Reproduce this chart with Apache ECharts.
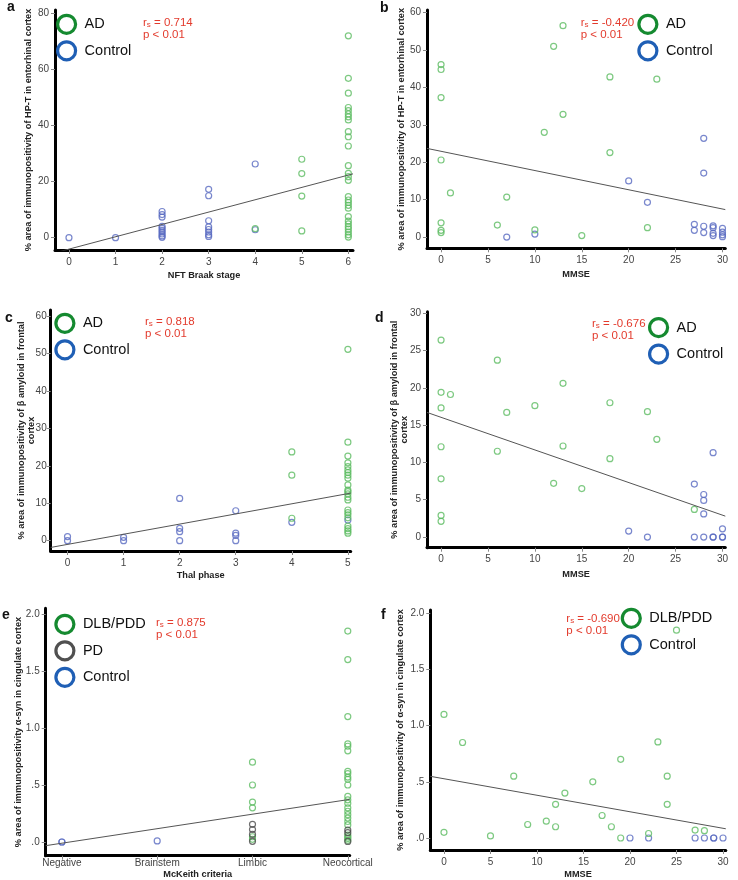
<!DOCTYPE html>
<html><head><meta charset="utf-8">
<script src="https://cdn.jsdelivr.net/npm/echarts@6/dist/echarts.min.js"></script>
<style>html,body{margin:0;padding:0;background:#fff}#c{width:738px;height:880px}</style>
</head><body><div id="c"></div>
<script>
// ---------- data ----------
const aControl = [[0,0],[1,0],[2,9.3],[2,8.2],[2,7.3],[2,4.0],[2,3.3],[2,2.6],[2,2.0],[2,1.3],[2,0.6],[2,0.1],[3,17.2],[3,14.9],[3,6.0],[3,3.8],[3,2.9],[3,2.0],[3,1.0],[3,0.4],[4,26.2],[4,2.8]];
const aAD = [[4,3.2],[5,27.9],[5,22.8],[5,14.8],[5,2.4],[6,71.8],[6,56.7],[6,51.4],[6,46.3],[6,45.2],[6,44.0],[6,43.0],[6,41.9],[6,37.7],[6,35.9],[6,32.6],[6,25.6],[6,22.9],[6,21.7],[6,20.4],[6,14.6],[6,13.4],[6,12.5],[6,11.5],[6,10.5],[6,7.5],[6,5.9],[6,4.9],[6,3.9],[6,3.0],[6,2.0],[6,1.0],[6,0.2]];
const aFit = [[-0.3,-5.4],[6.1,22.7]];

const bAD = [[0,46.1],[0,44.8],[0,37.3],[0,20.6],[0,3.8],[0,1.8],[0,1.2],[1,11.8],[6,3.2],[7,10.7],[10,1.9],[11,28.0],[12,51.0],[13,56.5],[13,32.8],[15,0.4],[18,42.8],[18,22.6],[22,2.5],[23,42.2]];
const bControl = [[7,0],[10,0.8],[20,15.0],[22,9.3],[28,26.4],[28,17.1],[27,3.4],[27,1.8],[28,2.9],[28,1.2],[29,3.0],[29,2.5],[29,1.0],[29,0.4],[30,2.3],[30,1.3],[30,0.6],[30,0.1]];
const bFit = [[-1.5,23.7],[30.3,7.35]];

const cControl = [[0,1.1],[0,0],[1,0.9],[1,0],[2,11.3],[2,3.3],[2,2.4],[2,0],[3,8.0],[3,2.0],[3,1.4],[3,0],[4,4.9],[5,5.5]];
const cAD = [[4,23.7],[4,17.5],[4,6.0],[5,51.1],[5,26.3],[5,22.6],[5,20.8],[5,19.8],[5,18.9],[5,18.2],[5,17.5],[5,16.7],[5,14.9],[5,13.5],[5,13.1],[5,12.5],[5,11.6],[5,10.9],[5,8.2],[5,7.5],[5,6.9],[5,6.1],[5,3.9],[5,3.2],[5,2.6],[5,2.0]];
const cFit = [[-0.3,-1.8],[5.05,12.7]];

const dAD = [[0,26.4],[0,19.4],[1,19.1],[0,17.3],[0,12.1],[0,7.8],[0,2.9],[0,2.1],[6,23.7],[6,11.5],[7,16.7],[10,17.6],[12,7.2],[13,20.6],[13,12.2],[15,6.5],[18,18.0],[18,10.5],[22,16.8],[23,13.1],[27,3.7]];
const dControl = [[20,0.8],[22,0],[27,7.1],[27,0],[28,5.7],[28,4.9],[28,3.1],[28,0],[29,11.3],[29,0],[29,0],[30,1.1],[30,0],[30,0]];
const dFit = [[-1.5,16.7],[30.3,2.8]];

const eCats = ['Negative','Brainstem','Limbic','Neocortical'];
const eDLB = [[2,0.70],[2,0.50],[2,0.35],[2,0.30],[2,0.046],[2,0.024],[3,1.85],[3,1.60],[3,1.10],[3,0.86],[3,0.84],[3,0.80],[3,0.62],[3,0.60],[3,0.57],[3,0.55],[3,0.50],[3,0.40],[3,0.37],[3,0.34],[3,0.30],[3,0.27],[3,0.24],[3,0.21],[3,0.18],[3,0.15],[3,0.06],[3,0.045],[3,0.03],[3,0.015]];
const ePD = [[2,0.155],[2,0.11],[2,0.067],[2,0.006],[3,0.105],[3,0.082],[3,0.005]];
const eControl = [[0,0],[0,0],[1,0.01]];
const eFit = [[-0.17,-0.032],[3.02,0.374]];

const fDLB = [[0,1.10],[0,0.05],[2,0.85],[5,0.018],[7.5,0.55],[9,0.12],[11,0.15],[12,0.30],[12,0.10],[13,0.40],[16,0.50],[17,0.20],[18,0.10],[19,0.70],[19,0.0],[22,0.04],[23,0.855],[24,0.55],[24,0.30],[25,1.85],[27,0.07],[28,0.065]];
const fControl = [[20,0],[22,0],[27,0],[28,0],[29,0],[29,0],[30,0]];
const fFit = [[-1.47,0.549],[30.3,0.082]];

const ticksBraak = [0,1,2,3,4,5,6];
const ticksThal = [0,1,2,3,4,5];
const ticksMMSE = [0,5,10,15,20,25,30];
const ticksMcK = [0,1,2,3];
const yTicksA = [0,20,40,60,80];
const yTicksB = [0,10,20,30,40,50,60];
const yTicksD = [0,5,10,15,20,25,30];
const yTicksE = [0,0.5,1,1.5,2];

const stats = [
  {r:'0.714', p:'p < 0.01'}, {r:'-0.420', p:'p < 0.01'},
  {r:'0.818', p:'p < 0.01'}, {r:'-0.676', p:'p < 0.01'},
  {r:'0.875', p:'p < 0.01'}, {r:'-0.690', p:'p < 0.01'}
];

// ---------- styles ----------
const FONT = 'Liberation Sans, Arial, Helvetica, sans-serif';
const GREEN = '#5cbb62', BLUE = '#5869c0', GRAY = '#4a4a4a';
const LGREEN = '#158a30', LBLUE = '#1f5fb5', LGRAY = '#505050';
const RED = '#e33b2d';

const grids = [
  {left:55, top:10, width:298, height:240},
  {left:427, top:10, width:298.3, height:238.3},
  {left:50.7, top:310, width:300, height:241},
  {left:427, top:311.7, width:298.3, height:236},
  {left:45.7, top:608.3, width:304, height:247.4},
  {left:430.3, top:610, width:295.5, height:240}
];

const fmtE = v => v === 0 ? '.0' : (v < 1 ? '.' + String(v).split('.')[1] : v.toFixed(1));

function xAxis(i, min, max, ticks, name, gap, fmt, lblMargin) {
  return {
    gridIndex:i, type:'value', min, max, name, nameLocation:'middle', nameGap:gap, nameMoveOverlap:false,
    nameTextStyle:{fontFamily:FONT, fontWeight:'bold', fontSize:9.2, color:'#222'},
    axisLine:{show:true, onZero:false, lineStyle:{color:'#000', width:3}},
    axisTick:{show:true, customValues:ticks, length:4, lineStyle:{color:'#888', width:1}},
    axisLabel:{customValues:ticks, fontFamily:FONT, fontSize:10, color:'#444', margin:lblMargin || 7, formatter: fmt || (v => String(v))},
    splitLine:{show:false}
  };
}
function yAxis(i, min, max, ticks, name, gap, fmt, lh, lblMargin) {
  return {
    gridIndex:i, type:'value', min, max, name, nameLocation:'middle', nameGap:gap, nameRotate:90, nameMoveOverlap:false,
    nameTextStyle:{fontFamily:FONT, fontWeight:'bold', fontSize:9.2, color:'#222', lineHeight: lh || 11},
    axisLine:{show:true, onZero:false, lineStyle:{color:'#000', width:3}},
    axisTick:{show:true, customValues:ticks, length:4, lineStyle:{color:'#888', width:1}},
    axisLabel:{customValues:ticks, fontFamily:FONT, fontSize:10, color:'#444', margin:lblMargin || 6, formatter: fmt || (v => String(v))},
    splitLine:{show:false}
  };
}

function scatter(i, name, data, color) {
  return {type:'scatter', name, xAxisIndex:i, yAxisIndex:i, data, symbol:'circle', symbolSize:6,
    itemStyle:{color:'rgba(0,0,0,0)', borderColor:color, borderWidth:1.2}, silent:true};
}
function fit(i, data) {
  return {type:'line', name:'fit', xAxisIndex:i, yAxisIndex:i, data, symbol:'none', silent:true, clip:true,
    lineStyle:{color:'#555', width:1}};
}
function legend(left, top, items) {
  const col = {AD:LGREEN, 'DLB/PDD':LGREEN, PD:LGRAY, Control:LBLUE};
  return {left, top, orient:'vertical', padding:0, itemWidth:26, itemHeight:18, itemGap:5.3, icon:'circle',
    selectedMode:false,
    textStyle:{fontFamily:FONT, fontSize:14.5, color:'#111'},
    data: items.map(n => ({name:n, itemStyle:{color:'rgba(0,0,0,0)', borderColor:col[n], borderWidth:3.2, opacity:1}}))};
}
function statTitle(i, left, top) {
  return {left, top, padding:0,
    text:'{a|r}{s|s}{a| = ' + stats[i].r + '}\n{a|' + stats[i].p + '}',
    textStyle:{fontWeight:'normal', fontFamily:FONT, fontSize:11.5, color:RED, rich:{
      a:{fontFamily:FONT, fontWeight:'normal', fontSize:11.5, color:RED, lineHeight:12},
      s:{fontFamily:FONT, fontWeight:'normal', fontSize:8, color:RED, lineHeight:12, verticalAlign:'bottom', padding:[5,0,0,0]}
    }}};
}
function letter(t, left, top) {
  return {left, top, padding:0, text:t, textStyle:{fontFamily:FONT, fontWeight:'bold', fontSize:14, color:'#111', lineHeight:14}};
}

const option = {
  animation:false,
  backgroundColor:'#fff',
  grid: grids,
  title: [
    letter('a', 7, 0), letter('b', 380, 1), letter('c', 5, 311), letter('d', 375, 311), letter('e', 2, 608), letter('f', 381, 608),
    statTitle(0, 143, 16.5), statTitle(1, 580.7, 16.5), statTitle(2, 145, 315.5),
    statTitle(3, 592, 318), statTitle(4, 156, 616.5), statTitle(5, 566.3, 613)
  ],
  legend: [
    legend(56, 13.7, ['AD','Control']),
    legend(637.3, 13.7, ['AD','Control']),
    legend(54.3, 312.7, ['AD','Control']),
    legend(648, 317, ['AD','Control']),
    legend(54.3, 613.7, ['DLB/PDD','PD','Control']),
    legend(620.7, 607.7, ['DLB/PDD','Control'])
  ],
  xAxis: [
    xAxis(0, -0.3, 6.1, ticksBraak, 'NFT Braak stage', 20.5),
    xAxis(1, -1.5, 30.3, ticksMMSE, 'MMSE', 22),
    xAxis(2, -0.3, 5.05, ticksThal, 'Thal phase', 20),
    xAxis(3, -1.5, 30.3, ticksMMSE, 'MMSE', 22),
    xAxis(4, -0.17, 3.02, ticksMcK, 'McKeith criteria', 14, v => eCats[v], 3),
    xAxis(5, -1.47, 30.3, ticksMMSE, 'MMSE', 20)
  ],
  yAxis: [
    yAxis(0, -4.4, 81, yTicksA, '% area of immunopositivity of HP-T in entorhinal cortex', 21),
    yAxis(1, -3.0, 60.7, yTicksB, '% area of immunopositivity of HP-T in entorhinal cortex', 20.5),
    yAxis(2, -2.75, 61.6, yTicksB, '% area of immunopositivity of β amyloid in frontal\ncortex', 14, null, 10, 4),
    yAxis(3, -1.43, 30.2, yTicksD, '% area of immunopositivity of β amyloid in frontal\ncortex', 18, null, 10),
    yAxis(4, -0.12, 2.05, yTicksE, '% area of immunopositivity α-syn in cingulate cortex', 22, fmtE),
    yAxis(5, -0.107, 2.03, yTicksE, '% area of immunopositivity of α-syn in cingulate cortex', 24, fmtE)
  ],
  series: [
    fit(0, aFit), scatter(0, 'Control', aControl, BLUE), scatter(0, 'AD', aAD, GREEN),
    fit(1, bFit), scatter(1, 'Control', bControl, BLUE), scatter(1, 'AD', bAD, GREEN),
    fit(2, cFit), scatter(2, 'Control', cControl, BLUE), scatter(2, 'AD', cAD, GREEN),
    fit(3, dFit), scatter(3, 'Control', dControl, BLUE), scatter(3, 'AD', dAD, GREEN),
    fit(4, eFit), scatter(4, 'Control', eControl, BLUE), scatter(4, 'DLB/PDD', eDLB, GREEN), scatter(4, 'PD', ePD, GRAY),
    fit(5, fFit), scatter(5, 'Control', fControl, BLUE), scatter(5, 'DLB/PDD', fDLB, GREEN)
  ]
};
const chart = echarts.init(document.getElementById('c'), null, {renderer:'canvas'});
chart.setOption(option);
</script>
</body></html>
